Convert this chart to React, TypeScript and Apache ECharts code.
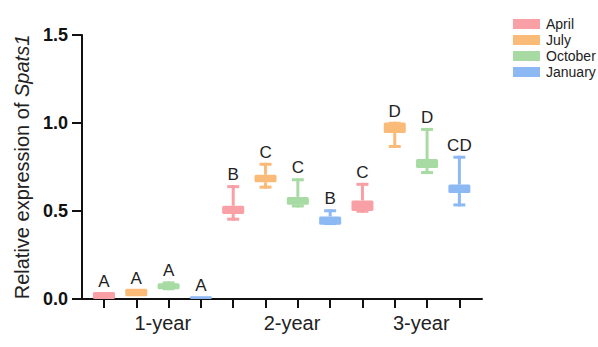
import React, { useEffect, useRef } from "react";
import * as echarts from "echarts";

const years = ["1-year", "2-year", "3-year"];
const months = ["April", "July", "October", "January"];
const monthColors = ["#F8A0A6", "#FBBB78", "#A8DBA3", "#8CB8F4"];

// [min, q1, q3, max] per year
const aprilStats = [
  [0.0, 0.0, 0.04, 0.04],
  [0.445, 0.483, 0.53, 0.647],
  [0.49, 0.5, 0.56, 0.66],
];
const julyStats = [
  [0.015, 0.015, 0.058, 0.058],
  [0.627, 0.663, 0.706, 0.774],
  [0.858, 0.943, 1.003, 1.007],
];
const octoberStats = [
  [0.05, 0.055, 0.09, 0.1],
  [0.52, 0.535, 0.58, 0.686],
  [0.71, 0.744, 0.795, 0.972],
];
const januaryStats = [
  [0.0, 0.0, 0.015, 0.015],
  [0.42, 0.422, 0.469, 0.51],
  [0.526, 0.602, 0.65, 0.814],
];

const aprilLetters = ["A", "B", "C"];
const julyLetters = ["A", "C", "D"];
const octoberLetters = ["A", "C", "D"];
const januaryLetters = ["A", "B", "CD"];

const yTicks = [0, 0.5, 1.0, 1.5];

const allStats = [aprilStats, julyStats, octoberStats, januaryStats];
const allLetters = [aprilLetters, julyLetters, octoberLetters, januaryLetters];

const FONT = "Liberation Sans, Arial, Helvetica, sans-serif";

export default function App() {
  const ref = useRef<HTMLDivElement>(null);

  useEffect(() => {
    if (!ref.current) return;
    const chart = echarts.init(ref.current, null, { renderer: "svg" });
    const nPer = months.length;
    const tickValues: number[] = [];
    years.forEach((_, yi) => months.forEach((_, mi) => tickValues.push(yi * nPer + mi)));
    const labelValues = years.map((_, yi) => yi * nPer + (nPer - 1) / 2 + 0.32);

    const series = months.map((m, mi) => ({
      type: "custom",
      name: m,
      itemStyle: { color: monthColors[mi] },
      data: allStats[mi].map((s, yi) => [yi * nPer + mi, ...s]),
      renderItem: (params: any, api: any) => {
        const xv = api.value(0);
        const mn = api.value(1);
        const q1 = api.value(2);
        const q3 = api.value(3);
        const mx = api.value(4);
        const pMin = api.coord([xv, mn]);
        const pQ1 = api.coord([xv, q1]);
        const pQ3 = api.coord([xv, q3]);
        const pMax = api.coord([xv, mx]);
        const cx = pMin[0];
        const color = monthColors[mi];
        const children: any[] = [];
        const lw = 3;
        const capW = 12;
        const boxW = 22;
        if (mx > q3) {
          children.push({
            type: "line",
            shape: { x1: cx, y1: pMax[1], x2: cx, y2: pQ3[1] },
            style: { stroke: color, lineWidth: lw },
          });
          children.push({
            type: "line",
            shape: { x1: cx - capW / 2, y1: pMax[1] + lw / 2, x2: cx + capW / 2, y2: pMax[1] + lw / 2 },
            style: { stroke: color, lineWidth: lw },
          });
        }
        if (mn < q1) {
          children.push({
            type: "line",
            shape: { x1: cx, y1: pQ1[1], x2: cx, y2: pMin[1] },
            style: { stroke: color, lineWidth: lw },
          });
          children.push({
            type: "line",
            shape: { x1: cx - capW / 2, y1: pMin[1] - lw / 2, x2: cx + capW / 2, y2: pMin[1] - lw / 2 },
            style: { stroke: color, lineWidth: lw },
          });
        }
        const h = Math.max(pQ1[1] - pQ3[1], 2.5);
        children.push({
          type: "rect",
          shape: { x: cx - boxW / 2, y: pQ1[1] - h, width: boxW, height: h, r: 1.5 },
          style: { fill: color },
        });
        children.push({
          type: "text",
          x: cx,
          y: pMax[1] - 2,
          style: {
            text: allLetters[mi][params.dataIndex],
            fontSize: 17,
            fontFamily: FONT,
            fill: "#222",
            align: "center",
            verticalAlign: "bottom",
          },
        });
        return { type: "group", children };
      },
    }));

    chart.setOption({
      animation: false,
      backgroundColor: "#fff",
      grid: { left: 82, right: 116, top: 35, bottom: 48 },
      legend: {
        orient: "vertical",
        left: 508,
        top: 12,
        itemWidth: 27,
        itemHeight: 10,
        itemGap: 2,
        icon: "rect",
        data: months,
        textStyle: { fontSize: 14, fontFamily: FONT, color: "#222", padding: [0, 0, 0, 1] },
      },
      xAxis: {
        type: "value",
        min: -0.68,
        max: 11.7,
        splitLine: { show: false },
        axisLine: { show: true, onZero: false, lineStyle: { color: "#111", width: 2 } },
        axisTick: {
          show: true,
          customValues: tickValues,
          length: 9,
          lineStyle: { color: "#111", width: 2 },
        },
        axisLabel: {
          customValues: labelValues,
          margin: 14,
          fontSize: 20,
          fontFamily: FONT,
          color: "#222",
          formatter: (v: number) => {
            const i = labelValues.findIndex((lv) => Math.abs(lv - v) < 0.01);
            return i >= 0 ? years[i] : "";
          },
        },
      },
      yAxis: {
        type: "value",
        min: 0,
        max: 1.5,
        interval: 0.5,
        splitLine: { show: false },
        axisLine: { show: true, onZero: false, lineStyle: { color: "#111", width: 2 } },
        axisTick: { show: true, length: 10, lineStyle: { color: "#111", width: 2 } },
        axisLabel: {
          margin: 14,
          fontSize: 18,
          fontWeight: "bold",
          fontFamily: FONT,
          color: "#111",
          formatter: (v: number) => (yTicks.includes(v) ? v.toFixed(1) : ""),
        },
        name: "{n|Relative expression of }{i|Spats1}",
        nameLocation: "middle",
        nameGap: 50,
        nameTextStyle: {
          rich: {
            n: { fontSize: 20, fontFamily: FONT, color: "#222" },
            i: { fontSize: 20, fontFamily: FONT, color: "#222", fontStyle: "italic" },
          },
        },
      },
      series,
    });
    return () => chart.dispose();
  }, []);

  return (
    <div
      ref={ref}
      style={{ position: "absolute", left: 0, top: 0, width: 598, height: 347 }}
    />
  );
}
